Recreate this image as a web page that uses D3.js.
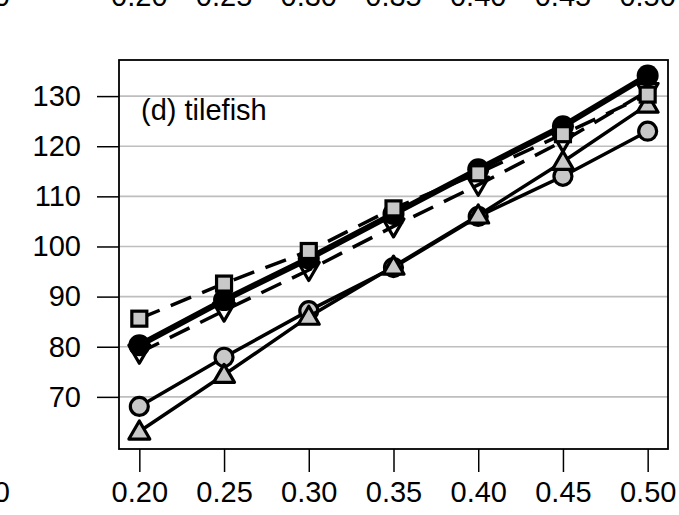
<!DOCTYPE html>
<html><head><meta charset="utf-8">
<script src="https://cdn.jsdelivr.net/npm/d3@7"></script>
<style>body{margin:0;background:#fff}svg{display:block}text{font-family:"Liberation Sans",Arial,sans-serif}</style>
</head><body>
<svg id="c" width="679" height="515"></svg>
<script>
const xValues = [0.20, 0.25, 0.30, 0.35, 0.40, 0.45, 0.50];
const xTicks = ["0.20","0.25","0.30","0.35","0.40","0.45","0.50"];
const yTicks = [70, 80, 90, 100, 110, 120, 130];
const panelLabel = "(d) tilefish";
const grayCircle = [68.1, 77.9, 87.2, 95.8, 106.0, 114.0, 123.0];
const upTriangle = [63.1, 74.4, 86.0, 96.0, 106.2, 116.9, 128.3];
const downTriangle = [78.8, 87.2, 95.3, 104.0, 112.3, 121.0, 131.0];
const blackCircle = [80.3, 89.3, 97.6, 106.5, 115.4, 124.0, 134.1];
const graySquare = [85.6, 92.6, 99.1, 107.6, 114.6, 122.4, 130.3];

const svg = d3.select("#c");
const L = 119, R = 668, T = 60, B = 449;
const x = d3.scaleLinear().domain([0.188, 0.512]).range([L, R]);
const y = d3.scaleLinear().domain([59.6, 137.2]).range([B, T]);

// grid
svg.append("g").selectAll("line").data(yTicks).join("line")
  .attr("x1", L).attr("x2", R).attr("y1", d => y(d)).attr("y2", d => y(d))
  .attr("stroke", "#bebebe").attr("stroke-width", 1.6);

// axes
const fs = 29;
const yAxis = d3.axisLeft(y).tickValues(yTicks).tickSize(22).tickPadding(16).tickFormat(d3.format("d"));
const gy = svg.append("g").attr("transform", `translate(${L},0)`).call(yAxis);
gy.select(".domain").remove();
gy.selectAll("line").attr("stroke", "#000").attr("stroke-width", 1.5);
gy.selectAll("text").attr("font-size", fs).attr("fill", "#000").attr("font-family", "Liberation Sans, Arial, sans-serif");

const xAxis = d3.axisBottom(x).tickValues(xValues).tickSize(23).tickPadding(9).tickFormat((d, i) => xTicks[i]);
const gx = svg.append("g").attr("transform", `translate(0,${B})`).call(xAxis);
gx.select(".domain").remove();
gx.selectAll("line").attr("stroke", "#000").attr("stroke-width", 1.5);
gx.selectAll("text").attr("font-size", fs).attr("fill", "#000").attr("font-family", "Liberation Sans, Arial, sans-serif");

// partial labels from neighbouring panels
svg.append("g").selectAll("text").data(xValues).join("text")
  .attr("x", d => x(d)).attr("y", 6).attr("text-anchor", "middle")
  .attr("font-size", fs).text((d, i) => xTicks[i]);
svg.append("text").attr("x", 10).attr("y", 6).attr("text-anchor", "end").attr("font-size", fs).text("0.50");
svg.append("text").attr("x", 10).attr("y", 502).attr("text-anchor", "end").attr("font-size", fs).text("0.50");

// box
svg.append("rect").attr("x", L).attr("y", T).attr("width", R - L).attr("height", B - T)
  .attr("fill", "none").attr("stroke", "#000").attr("stroke-width", 1.8);

svg.append("text").attr("x", 141).attr("y", 120).attr("font-size", 29).text(panelLabel);

const line = d3.line().x((d, i) => x(xValues[i])).y(d => y(d));
const series = [
  {v: grayCircle, dash: null, w: 3.5, shape: "circle", fill: "#c8c8c8"},
  {v: upTriangle, dash: null, w: 3.5, shape: "up", fill: "#c8c8c8"},
  {v: downTriangle, dash: "22,12", w: 3.5, shape: "down", fill: "none"},
  {v: blackCircle, dash: null, w: 6, shape: "dot", fill: "#000"},
  {v: graySquare, dash: "22,12", w: 3.5, shape: "square", fill: "#c8c8c8"}
];
series.forEach(s => {
  svg.append("path").datum(s.v).attr("d", line).attr("fill", "none")
    .attr("stroke", "#000").attr("stroke-width", s.w).attr("stroke-dasharray", s.dash);
  const g = svg.append("g");
  s.v.forEach((d, i) => {
    const cx = x(xValues[i]), cy = y(d);
    if (s.shape === "circle") {
      g.append("circle").attr("cx", cx).attr("cy", cy).attr("r", 9).attr("fill", s.fill).attr("stroke", "#000").attr("stroke-width", 3.2);
    } else if (s.shape === "dot") {
      g.append("circle").attr("cx", cx).attr("cy", cy).attr("r", 11).attr("fill", "#000");
    } else if (s.shape === "square") {
      g.append("rect").attr("x", cx - 7.5).attr("y", cy - 7.5).attr("width", 15).attr("height", 15).attr("fill", s.fill).attr("stroke", "#000").attr("stroke-width", 3.2);
    } else if (s.shape === "up") {
      const h = 9.5;
      g.append("path").attr("d", `M${cx},${cy - h * 1.1}L${cx + h * 1.1},${cy + h * 0.8}L${cx - h * 1.1},${cy + h * 0.8}Z`)
        .attr("fill", s.fill).attr("stroke", "#000").attr("stroke-width", 3.2).attr("stroke-linejoin", "round");
    } else {
      const h = 9.5;
      g.append("path").attr("d", `M${cx},${cy + h * 1.1}L${cx + h * 1.1},${cy - h * 0.8}L${cx - h * 1.1},${cy - h * 0.8}Z`)
        .attr("fill", "none").attr("stroke", "#000").attr("stroke-width", 3.2).attr("stroke-linejoin", "round");
    }
  });
});
</script>
</body></html>
